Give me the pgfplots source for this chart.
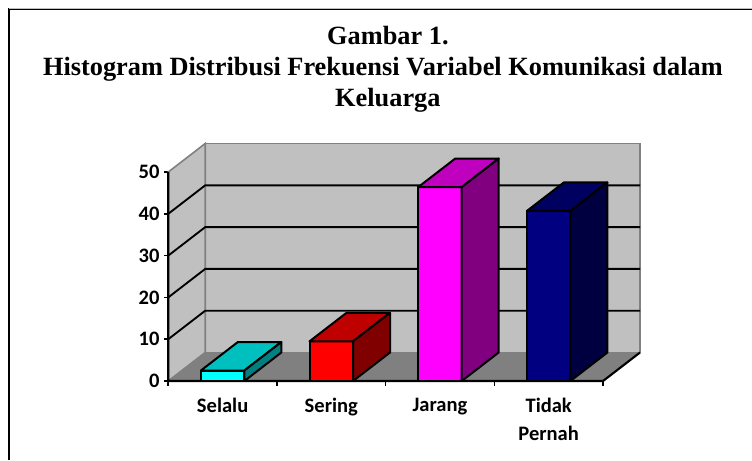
\documentclass[border=0pt]{standalone}
\usepackage{fontspec}
\setmainfont{Liberation Serif}
\newfontfamily\carlito{Carlito}
\usepackage{pgfplots}
\pgfplotsset{compat=1.18}
\definecolor{wall}{HTML}{C0C0C0}
\definecolor{floorc}{HTML}{808080}
\definecolor{cyanF}{HTML}{00FFFF}
\definecolor{cyanT}{HTML}{00BFBF}
\definecolor{cyanS}{HTML}{008080}
\definecolor{redF}{HTML}{FF0000}
\definecolor{redT}{HTML}{BF0000}
\definecolor{redS}{HTML}{800000}
\definecolor{magF}{HTML}{FF00FF}
\definecolor{magT}{HTML}{BF00BF}
\definecolor{magS}{HTML}{800080}
\definecolor{navF}{HTML}{000080}
\definecolor{navT}{HTML}{000060}
\definecolor{navS}{HTML}{000040}
\begin{document}
\begin{tikzpicture}
\useasboundingbox (0,0) rectangle (564pt,345pt);
\draw[line width=1.5pt,black] (7.1pt,0pt) -- (7.1pt,337.9pt) -- (564pt,337.9pt);
\draw[line width=0.6pt,black!25] (7.1pt,339pt) -- (564pt,339pt);
\begin{axis}[
  at={(126.2pt,59.25pt)}, anchor=south west,
  scale only axis, width=353.8pt, height=178.1pt,
  xmin=-0.5, xmax=3.84, ymin=0, ymax=56.82,
  clip=false,
  axis x line*=bottom, axis y line*=left,
  axis line style={draw=none,-},
  title={\hspace*{7.5pt}Gambar 1.\\Histogram Distribusi Frekuensi Variabel Komunikasi dalam\\\hspace*{7.5pt}Keluarga},
  title style={at={(0.455,1)},anchor=south,align=center,yshift=14pt,
    font=\fontsize{19.75}{23.2}\selectfont\bfseries},
  ytick={0,10,20,30,40,50},
  xtick={0,1,2,3},
  xticklabels={Selalu,Sering,Jarang,{Tidak\\Pernah}},
  minor xtick={-0.5,0.5,1.5,2.5,3.5},
  major x tick style={draw=none},
  minor x tick style={black,line width=1.2pt},
  ytick style={black,line width=1.2pt},
  tick align=outside,
  major tick length=3pt, minor tick length=3.5pt,
  /pgf/number format/assume math mode=true,
  yticklabel style={font=\fontsize{15.4}{21}\selectfont\carlito\bfseries},
  xticklabel style={font=\fontsize{15.4}{21}\selectfont\carlito\bfseries,align=center,anchor=north,yshift=-6pt},
]
% walls and floor
\addplot[fill=wall,draw=floorc,line width=1.2pt] coordinates {(-0.16,6.82)(3.84,6.82)(3.84,56.82)(-0.16,56.82)} -- cycle;
\addplot[fill=wall,draw=floorc,line width=1.2pt] coordinates {(-0.5,0)(-0.16,6.82)(-0.16,56.82)(-0.5,50)} -- cycle;
\addplot[fill=floorc,draw=floorc,line width=0.6pt] coordinates {(-0.5,0)(3.5,0)(3.84,6.82)(-0.16,6.82)} -- cycle;
% gridlines
\addplot[black,line width=1.4pt] coordinates {(-0.5,10)(-0.16,16.82)(3.84,16.82)};
\addplot[black,line width=1.4pt] coordinates {(-0.5,20)(-0.16,26.82)(3.84,26.82)};
\addplot[black,line width=1.4pt] coordinates {(-0.5,30)(-0.16,36.82)(3.84,36.82)};
\addplot[black,line width=1.4pt] coordinates {(-0.5,40)(-0.16,46.82)(3.84,46.82)};
% floor front-right edge and axis lines
\addplot[black,line width=1.6pt] coordinates {(3.84,6.82)(3.5,0)(-0.5,0)(-0.5,50)};
% Selalu = 2.5
\addplot[ybar,bar width=0.4,bar shift=0pt,fill=cyanF,draw=black,line width=1.5pt] coordinates {(0,2.5)};
\addplot[fill=cyanT,draw=black,line width=1.5pt,line join=round] coordinates {(-0.2,2.5)(0.2,2.5)(0.54,9.32)(0.14,9.32)} -- cycle;
\addplot[fill=cyanS,draw=black,line width=1.5pt,line join=round] coordinates {(0.2,0)(0.54,6.82)(0.54,9.32)(0.2,2.5)} -- cycle;
% Sering = 9.5
\addplot[ybar,bar width=0.4,bar shift=0pt,fill=redF,draw=black,line width=1.5pt] coordinates {(1,9.5)};
\addplot[fill=redT,draw=black,line width=1.5pt,line join=round] coordinates {(0.8,9.5)(1.2,9.5)(1.54,16.32)(1.14,16.32)} -- cycle;
\addplot[fill=redS,draw=black,line width=1.5pt,line join=round] coordinates {(1.2,0)(1.54,6.82)(1.54,16.32)(1.2,9.5)} -- cycle;
% Jarang = 46.4
\addplot[ybar,bar width=0.4,bar shift=0pt,fill=magF,draw=black,line width=1.5pt] coordinates {(2,46.4)};
\addplot[fill=magT,draw=black,line width=1.5pt,line join=round] coordinates {(1.8,46.4)(2.2,46.4)(2.54,53.22)(2.14,53.22)} -- cycle;
\addplot[fill=magS,draw=black,line width=1.5pt,line join=round] coordinates {(2.2,0)(2.54,6.82)(2.54,53.22)(2.2,46.4)} -- cycle;
% Tidak Pernah = 40.7
\addplot[ybar,bar width=0.4,bar shift=0pt,fill=navF,draw=black,line width=1.5pt] coordinates {(3,40.7)};
\addplot[fill=navT,draw=black,line width=1.5pt,line join=round] coordinates {(2.8,40.7)(3.2,40.7)(3.54,47.52)(3.14,47.52)} -- cycle;
\addplot[fill=navS,draw=black,line width=1.5pt,line join=round] coordinates {(3.2,0)(3.54,6.82)(3.54,47.52)(3.2,40.7)} -- cycle;
\end{axis}
\end{tikzpicture}
\end{document}
